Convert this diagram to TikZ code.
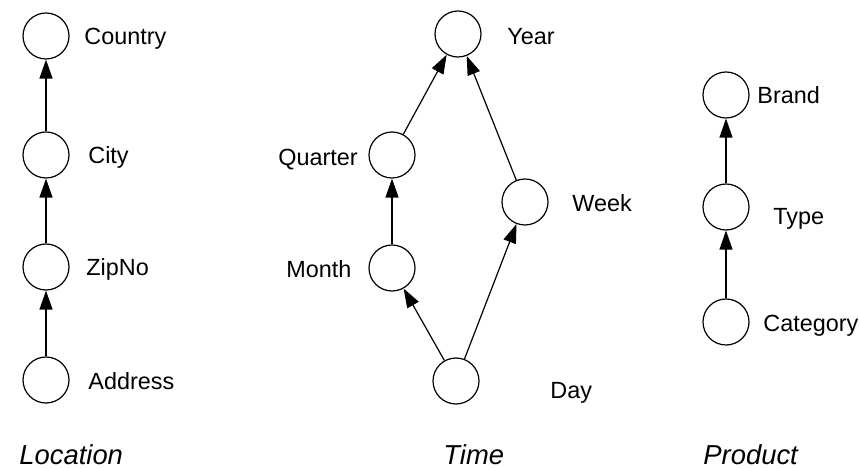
\documentclass[tikz,border=0pt]{standalone}
\usepackage{fontspec}
\setmainfont{Liberation Sans}
\usetikzlibrary{arrows.meta}

\tikzset{
  lvl/.style={circle, draw, line width=0.6pt, minimum size=23pt, inner sep=0pt},
  lbl/.style={anchor=base west, inner sep=0pt, font=\fontsize{11.7}{14}\selectfont},
  dimname/.style={anchor=base west, inner sep=0pt, font=\fontsize{13.7}{16}\selectfont\itshape},
  up/.style={line width=0.6pt, -{Triangle[length=9.5pt,width=6.5pt]}}
}

\begin{document}
\begin{tikzpicture}[x=0.5pt, y=-0.5pt]
  \useasboundingbox (0,0) rectangle (860,469);

  % location hierarchy
  \node[lvl] (country) at (46,36) {};
  \node[lvl] (city) at (46,155) {};
  \node[lvl] (zipno) at (46,267) {};
  \node[lvl] (address) at (46,380) {};
  \node[lbl] (countrytxt) at (84,45) {Country};
  \node[lbl] (citytxt) at (88,164) {City};
  \node[lbl] (zipnotxt) at (86,276) {ZipNo};
  \node[lbl] (addresstxt) at (88,389) {Address};
  \draw[up] (city) -- (country);
  \draw[up] (zipno) -- (city);
  \draw[up] (address) -- (zipno);
  \node[dimname] (location) at (19,464) {Location};

  % time hierarchy
  \node[lvl] (year) at (458,34) {};
  \node[lvl] (quarter) at (392,155) {};
  \node[lvl] (month) at (392,268) {};
  \node[lvl] (week) at (525,202) {};
  \node[lvl] (day) at (456,381) {};
  \node[lbl] (yeartxt) at (507,45) {Year};
  \node[lbl] (quartertxt) at (278,166) {Quarter};
  \node[lbl] (monthtxt) at (286,278) {Month};
  \node[lbl] (weektxt) at (572,212) {Week};
  \node[lbl] (daytxt) at (550,399) {Day};
  \draw[up] (quarter) -- (year);
  \draw[up] (week) -- (year);
  \draw[up] (month) -- (quarter);
  \draw[up] (day) -- (month);
  \draw[up] (day) -- (week);
  \node[dimname] (time) at (443,464) {Time};

  % product hierarchy
  \node[lvl] (brand) at (726,95) {};
  \node[lvl] (type) at (726,207) {};
  \node[lvl] (category) at (726,322) {};
  \node[lbl] (brandtxt) at (757,104) {Brand};
  \node[lbl] (typetxt) at (773,225) {Type};
  \node[lbl] (categorytxt) at (763,332) {Category};
  \draw[up] (type) -- (brand);
  \draw[up] (category) -- (type);
  \node[dimname] (product) at (703,464) {Product};
\end{tikzpicture}
\end{document}
